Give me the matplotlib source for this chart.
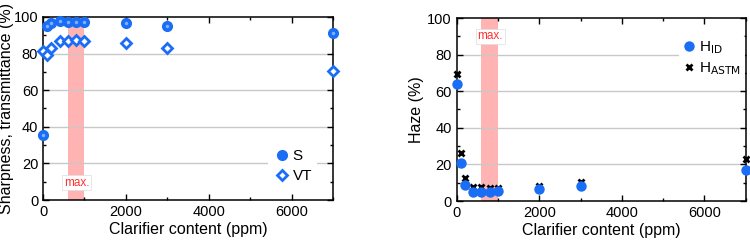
import matplotlib
matplotlib.use("Agg")
import matplotlib.pyplot as plt
from matplotlib.ticker import MultipleLocator

plt.rcParams['font.family'] = ['Liberation Sans', 'DejaVu Sans']

content = [0, 100, 200, 400, 600, 800, 1000, 2000, 3000, 7000]
sharpness = [35.5, 95, 96.5, 98, 97, 97, 97, 96.5, 95, 91]
vt = [81.5, 79, 83, 87, 87, 87.5, 87, 86, 83, 70.5]
haze_id = [64, 21, 8.5, 5, 5, 5, 5.5, 6.5, 8, 17]
haze_astm = [69.5, 26.5, 12.5, 7.5, 7.5, 7, 7, 8, 10.5, 23]
band = (600, 1000)

blue = '#1a6ef5'

fig = plt.figure(figsize=(7.5, 2.47), dpi=100)
ax1 = fig.add_axes([43/750, 47/247, 290/750, 183/247])
ax2 = fig.add_axes([456.7/750, 46/247, 289/750, 183/247])

for ax in (ax1, ax2):
    ax.set_xlim(0, 7000)
    ax.set_ylim(0, 100)
    ax.axvspan(band[0], band[1], color='#ffb3b3', zorder=0, lw=0)
    for g in (20, 40, 60, 80):
        ax.axhline(g, color='#c8c8c8', lw=1, zorder=0.5)
    ax.xaxis.set_major_locator(MultipleLocator(2000))
    ax.xaxis.set_minor_locator(MultipleLocator(1000))
    ax.yaxis.set_major_locator(MultipleLocator(20))
    ax.yaxis.set_minor_locator(MultipleLocator(10))
    ax.tick_params(which='both', direction='in', top=True, right=True, labelsize=10.5, width=1)
    ax.tick_params(which='major', length=4)
    ax.tick_params(which='minor', length=2.5)
    for s in ax.spines.values():
        s.set_linewidth(1.1)
    ax.set_xlabel('Clarifier content (ppm)', fontsize=11.5, labelpad=2)

# left panel
ax1.plot(content, sharpness, 'o', color=blue, ms=7, mec=blue, label='S', clip_on=False, zorder=3)
ax1.plot(content, sharpness, 'o', color='#7fb0ff', ms=2.5, mec='none', clip_on=False, zorder=4)
ax1.plot(content, vt, 'D', mfc='white', mec=blue, mew=2, ms=5.5, label='VT', clip_on=False, zorder=3)
ax1.text(810, 9.5, 'max.', color='#ff3030', fontsize=8.5, ha='center', va='center', zorder=5,
         bbox=dict(boxstyle='square,pad=0.15', fc='white', ec='#dddddd', lw=0.5))
ax1.set_ylabel('Sharpness, transmittance (%)', fontsize=11.5)
ax1.yaxis.set_label_coords(-0.1, 0.5)
leg1 = ax1.legend(loc='lower right', bbox_to_anchor=(0.97, 0.025), frameon=True, fontsize=11,
                  handletextpad=0.1, borderpad=0.3, labelspacing=0.4, handlelength=1.2)
leg1.get_frame().set_edgecolor('none')
leg1.get_frame().set_alpha(1)

# right panel
ax2.plot(content, haze_astm, 'x', color='black', ms=5, mew=2, label=r'H$_{\mathrm{ASTM}}$', clip_on=False, zorder=3)
ax2.plot(content, haze_id, 'o', color=blue, ms=7.5, mec='none', label=r'H$_{\mathrm{ID}}$', clip_on=False, zorder=4)
ax2.text(810, 90, 'max.', color='#ff3030', fontsize=8.5, ha='center', va='center', zorder=5,
         bbox=dict(boxstyle='square,pad=0.15', fc='white', ec='#dddddd', lw=0.5))
ax2.set_ylabel('Haze (%)', fontsize=11.5, labelpad=2)
h, l = ax2.get_legend_handles_labels()
leg2 = ax2.legend([h[1], h[0]], [l[1], l[0]], loc='upper right', bbox_to_anchor=(1.025, 0.95),
                  frameon=True, fontsize=11, handletextpad=0.3, borderpad=0.3,
                  labelspacing=0.3, handlelength=0.7)
leg2.get_frame().set_edgecolor('none')
leg2.get_frame().set_alpha(1)

fig.savefig('out.png', dpi=100)
